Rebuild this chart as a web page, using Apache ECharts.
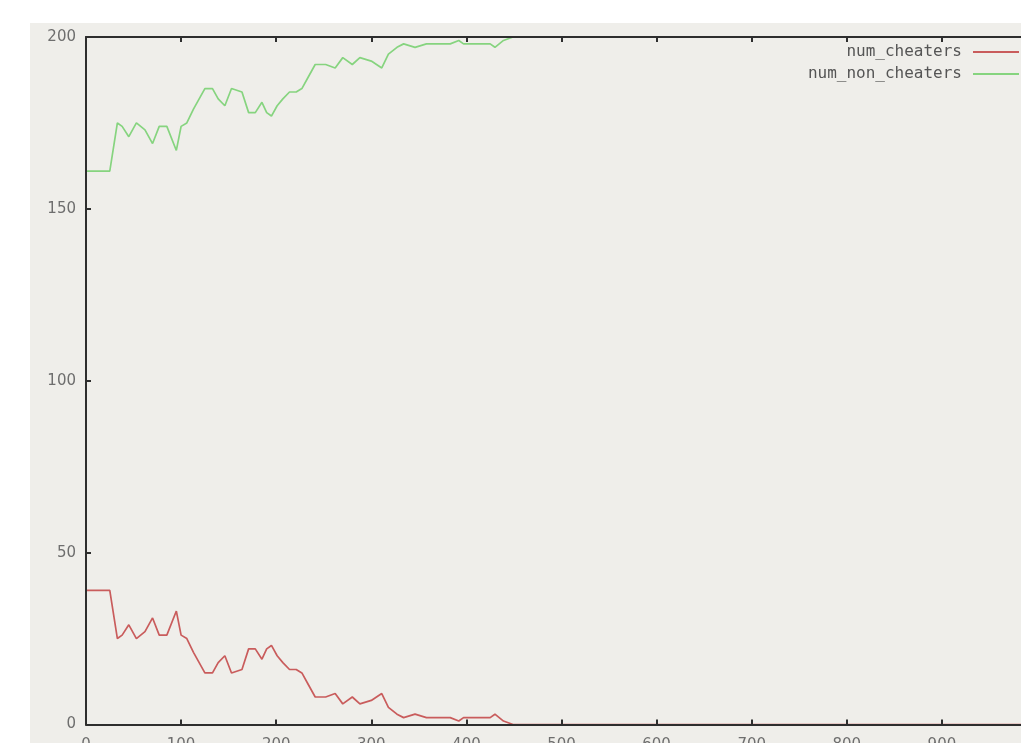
<!DOCTYPE html>
<html>
<head>
<meta charset="utf-8">
<script src="https://cdn.jsdelivr.net/npm/echarts@6/dist/echarts.min.js"></script>
<style>
  html, body { margin: 0; padding: 0; background: #ffffff; overflow: hidden; width: 1021px; height: 743px; }
  #chart { position: absolute; left: 30px; top: 23px; width: 1030px; height: 720px; background: #efeeea; }
</style>
</head>
<body>
<div id="chart"></div>
<script>
// time steps (x)
const steps = [0, 25, 33, 38, 45, 53, 62, 70, 77, 85, 95, 100, 106, 113, 125, 133, 139, 146, 153, 164, 171, 178, 185, 190, 195, 201, 207, 214, 221, 227, 233, 241, 252, 262, 270, 280, 288, 300, 311, 318, 327, 334, 346, 358, 383, 392, 397, 414, 425, 430, 439, 449, 1000];
const numCheaters = [39, 39, 25, 26, 29, 25, 27, 31, 26, 26, 33, 26, 25, 21, 15, 15, 18, 20, 15, 16, 22, 22, 19, 22, 23, 20, 18, 16, 16, 15, 12, 8, 8, 9, 6, 8, 6, 7, 9, 5, 3, 2, 3, 2, 2, 1, 2, 2, 2, 3, 1, 0, 0];
const numNonCheaters = [161, 161, 175, 174, 171, 175, 173, 169, 174, 174, 167, 174, 175, 179, 185, 185, 182, 180, 185, 184, 178, 178, 181, 178, 177, 180, 182, 184, 184, 185, 188, 192, 192, 191, 194, 192, 194, 193, 191, 195, 197, 198, 197, 198, 198, 199, 198, 198, 198, 197, 199, 200, 200];
const xTicks = [0, 100, 200, 300, 400, 500, 600, 700, 800, 900, 1000];
const yTicks = [0, 50, 100, 150, 200];
const seriesNames = ['num_cheaters', 'num_non_cheaters'];

const chart = echarts.init(document.getElementById('chart'), null, { renderer: 'canvas' });

const axisLineStyle = { color: '#2e2e2e', width: 2 };
const tickStyle = { color: '#2e2e2e', width: 2 };
const labelStyle = { color: '#6e6e6e', fontFamily: 'DejaVu Sans', fontSize: 15 };

chart.setOption({
  animation: false,
  backgroundColor: '#efeeea',
  grid: { left: 56, top: 14, right: 23, bottom: 18.5, containLabel: false, outerBoundsMode: 'none' },
  legend: {
    data: seriesNames,
    orient: 'vertical',
    align: 'right',
    right: 41,
    top: 21,
    padding: 0,
    itemGap: 6,
    itemWidth: 46,
    itemHeight: 2,
    icon: 'rect',
    textStyle: { color: '#555555', fontFamily: 'DejaVu Sans Mono', fontSize: 16, lineHeight: 16, padding: [0, 6, 0, 0] }
  },
  xAxis: [{
    type: 'value', min: xTicks[0], max: xTicks[xTicks.length - 1], interval: 100,
    position: 'bottom', z: 5,
    axisLine: { show: true, onZero: false, lineStyle: axisLineStyle },
    axisTick: { show: true, inside: true, length: 5, lineStyle: tickStyle },
    axisLabel: Object.assign({ margin: 13, showMaxLabel: false }, labelStyle),
    splitLine: { show: false }
  }, {
    type: 'value', min: xTicks[0], max: xTicks[xTicks.length - 1], interval: 100,
    position: 'top', z: 5,
    axisLine: { show: true, onZero: false, lineStyle: axisLineStyle },
    axisTick: { show: true, inside: true, length: 5, lineStyle: tickStyle },
    axisLabel: { show: false },
    splitLine: { show: false }
  }],
  yAxis: [{
    type: 'value', min: yTicks[0], max: yTicks[yTicks.length - 1], interval: 50, z: 5,
    axisLine: { show: true, onZero: false, lineStyle: axisLineStyle },
    axisTick: { show: true, inside: true, length: 5, lineStyle: tickStyle },
    axisLabel: Object.assign({ margin: 10 }, labelStyle),
    splitLine: { show: false }
  }],
  series: [{
    name: seriesNames[0],
    type: 'line',
    symbol: 'none',
    z: 2,
    color: '#c95c5c',
    lineStyle: { color: '#c95c5c', width: 1.7 },
    data: steps.map((s, i) => [s, numCheaters[i]])
  }, {
    name: seriesNames[1],
    type: 'line',
    symbol: 'none',
    z: 2,
    color: '#86d47f',
    lineStyle: { color: '#86d47f', width: 1.7 },
    data: steps.map((s, i) => [s, numNonCheaters[i]])
  }]
});
</script>
</body>
</html>
